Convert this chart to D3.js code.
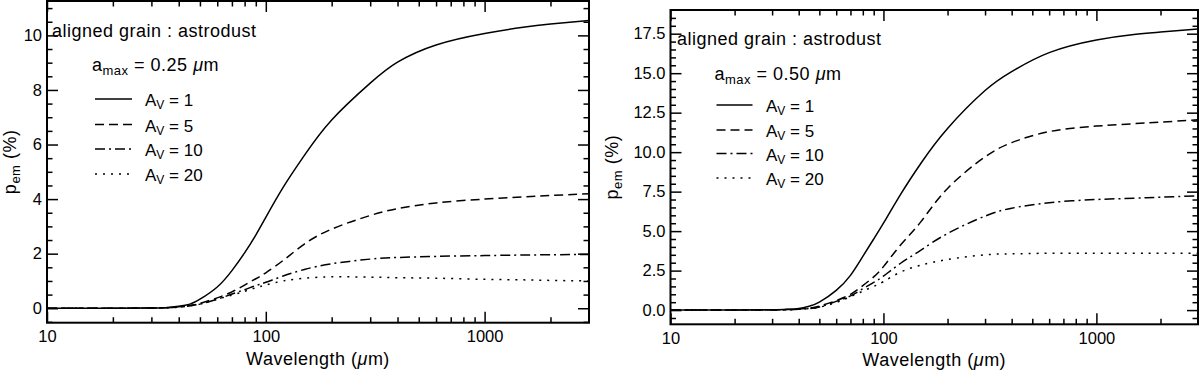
<!DOCTYPE html>
<style>
    body { margin: 0; background: #fff; }
    text { font-family: 'Liberation Sans', Arial, Helvetica, sans-serif; fill: #000; }
    .axis .domain { display: none; }
    .axis line { stroke: #000; stroke-width: 1.5px; }
    .lab { letter-spacing: 0.5px; }
</style>
<body>
<svg width="1200" height="370" id="chart"></svg>
<script src="https://d3js.org/d3.v7.min.js"></script>
<script>

    // wavelength grid in micron
    var wavelength = [10, 20, 30, 35, 40, 45, 50, 60, 70, 80, 90, 100, 120, 150, 200, 300, 400, 600, 1000, 1500, 2000, 3000];

    // a_max = 0.25 micron
    var pem025_av1  = [0, 0, 0.01, 0.02, 0.07, 0.15, 0.33, 0.78, 1.38, 2.03, 2.68, 3.33, 4.43, 5.6, 6.9, 8.25, 9.02, 9.65, 10.07, 10.3, 10.42, 10.55];
    var pem025_av5  = [0, 0, 0.01, 0.02, 0.05, 0.1, 0.18, 0.38, 0.6, 0.85, 1.08, 1.3, 1.75, 2.35, 2.9, 3.4, 3.65, 3.86, 4.0, 4.08, 4.13, 4.2];
    var pem025_av10 = [0, 0, 0.01, 0.02, 0.04, 0.09, 0.15, 0.33, 0.52, 0.68, 0.83, 0.95, 1.18, 1.42, 1.63, 1.8, 1.86, 1.9, 1.93, 1.95, 1.96, 1.97];
    var pem025_av20 = [0, 0, 0.01, 0.02, 0.04, 0.09, 0.15, 0.33, 0.48, 0.62, 0.75, 0.85, 1.0, 1.1, 1.15, 1.14, 1.12, 1.1, 1.06, 1.04, 1.02, 1.0];

    // a_max = 0.50 micron
    var pem050_av1  = [0, 0, 0.02, 0.05, 0.1, 0.25, 0.5, 1.25, 2.2, 3.4, 4.5, 5.5, 7.3, 9.3, 11.5, 13.9, 15.1, 16.3, 17.1, 17.45, 17.6, 17.8];
    var pem050_av5  = [0, 0, 0.01, 0.03, 0.07, 0.13, 0.25, 0.6, 1.0, 1.55, 2.1, 2.75, 4.1, 5.6, 7.7, 9.7, 10.6, 11.3, 11.65, 11.8, 11.9, 12.05];
    var pem050_av10 = [0, 0, 0.01, 0.02, 0.05, 0.1, 0.2, 0.55, 0.9, 1.35, 1.75, 2.15, 2.95, 3.8, 4.85, 5.95, 6.45, 6.8, 7.0, 7.08, 7.15, 7.23];
    var pem050_av20 = [0, 0, 0.01, 0.02, 0.05, 0.1, 0.18, 0.48, 0.85, 1.2, 1.5, 1.8, 2.4, 2.85, 3.2, 3.5, 3.56, 3.6, 3.6, 3.6, 3.6, 3.6];

    var avLabels = ["1", "5", "10", "20"];
    var xMajor = [10, 100, 1000];
    var xMinor = [20, 30, 40, 50, 60, 70, 80, 90, 200, 300, 400, 500, 600, 700, 800, 900, 2000];
    var yMajor025 = [0, 2, 4, 6, 8, 10];
    var yMajor050 = [0, 2.5, 5, 7.5, 10, 12.5, 15, 17.5];

    var dashes = [null, "9,5", "10,4,2,4", "2,6"];

    var svg = d3.select("svg");

    var panels = [
        {left: 47, right: 589, top: 1, bottom: 322.7, yDom: [-0.53, 11.26], yMajor: yMajor025, fmt: d3.format("d"),
         series: [pem025_av1, pem025_av5, pem025_av10, pem025_av20], amax: "0.25", ylabX: -31,
         title: [5, 36.3], amaxPos: [45, 69.7], legX: [48, 85, 98], legY: [98, 123.5, 148, 173]},
        {left: 670.5, right: 1198, top: 10, bottom: 324.3, yDom: [-0.9, 19.0], yMajor: yMajor050, fmt: d3.format(".1f"),
         series: [pem050_av1, pem050_av5, pem050_av10, pem050_av20], amax: "0.50", ylabX: -53,
         title: [6.5, 35], amaxPos: [44, 70], legX: [46, 82, 95.5], legY: [95, 120, 143.5, 168]}
    ];

    panels.forEach(function(p, pi) {
        var width = p.right - p.left,
            height = p.bottom - p.top;
        var g = svg.append("g").attr("transform", "translate(" + p.left + "," + p.top + ")");

        var x = d3.scaleLog().domain([10, 3000]).range([0, width]);
        var y = d3.scaleLinear().domain(p.yDom).range([height, 0]);

        var yMinor = d3.range(Math.ceil(p.yDom[0] * 2) / 2, p.yDom[1], 0.5)
            .filter(function(v) { return p.yMajor.indexOf(v) < 0; });

        // bottom axis with labels, ticks pointing inward
        g.append("g").attr("class", "axis").attr("transform", "translate(0," + height + ")")
            .call(d3.axisBottom(x).tickValues(xMajor).tickSize(-11).tickPadding(8).tickFormat(d3.format("d")))
            .selectAll("text").attr("font-size", 16.5).attr("font-family", null);
        g.append("g").attr("class", "axis").attr("transform", "translate(0," + height + ")")
            .call(d3.axisBottom(x).tickValues(xMinor).tickSize(-5.5).tickFormat(""));
        // top
        g.append("g").attr("class", "axis")
            .call(d3.axisTop(x).tickValues(xMajor).tickSize(-11).tickFormat(""));
        g.append("g").attr("class", "axis")
            .call(d3.axisTop(x).tickValues(xMinor).tickSize(-5.5).tickFormat(""));
        // left
        g.append("g").attr("class", "axis")
            .call(d3.axisLeft(y).tickValues(p.yMajor).tickSize(-11).tickPadding(5).tickFormat(p.fmt))
            .selectAll("text").attr("font-size", 16.5).attr("font-family", null);
        g.append("g").attr("class", "axis")
            .call(d3.axisLeft(y).tickValues(yMinor).tickSize(-5.5).tickFormat(""));
        // right
        g.append("g").attr("class", "axis").attr("transform", "translate(" + width + ",0)")
            .call(d3.axisRight(y).tickValues(p.yMajor).tickSize(-11).tickFormat(""));
        g.append("g").attr("class", "axis").attr("transform", "translate(" + width + ",0)")
            .call(d3.axisRight(y).tickValues(yMinor).tickSize(-5.5).tickFormat(""));

        g.append("clipPath").attr("id", "clip" + pi)
            .append("rect").attr("width", width).attr("height", height);

        var line = d3.line()
            .x(function(d) { return x(d[0]); })
            .y(function(d) { return y(d[1]); })
            .curve(d3.curveNatural);

        g.append("g").attr("clip-path", "url(#clip" + pi + ")")
            .selectAll("path")
            .data(p.series)
            .enter().append("path")
            .attr("fill", "none")
            .attr("stroke", "#000")
            .attr("stroke-width", 1.5)
            .attr("stroke-dasharray", function(d, i) { return dashes[i]; })
            .attr("d", function(s) { return line(wavelength.map(function(w, i) { return [w, s[i]]; })); });

        // frame
        g.append("rect")
            .attr("width", width).attr("height", height)
            .attr("fill", "none").attr("stroke", "#000").attr("stroke-width", 2);

        // annotations
        g.append("text").attr("class", "lab").attr("x", p.title[0]).attr("y", p.title[1])
            .attr("font-size", 18).text("aligned grain : astrodust");

        var am = g.append("text").attr("class", "lab").attr("x", p.amaxPos[0]).attr("y", p.amaxPos[1]).attr("font-size", 18);
        am.append("tspan").text("a");
        am.append("tspan").attr("font-size", 13).attr("dy", 4).text("max");
        am.append("tspan").attr("dy", -4).text(" = " + p.amax + " ");
        am.append("tspan").attr("font-style", "italic").text("\u03bc");
        am.append("tspan").text("m");

        var leg = g.selectAll(".leg")
            .data(avLabels)
            .enter().append("g")
            .attr("transform", function(d, i) { return "translate(0," + p.legY[i] + ")"; });

        leg.append("line")
            .attr("x1", p.legX[0]).attr("x2", p.legX[1])
            .attr("stroke", "#000").attr("stroke-width", 1.5)
            .attr("stroke-dasharray", function(d, i) { return dashes[i]; });

        var lt = leg.append("text").attr("x", p.legX[2]).attr("y", 7).attr("font-size", 17);
        lt.append("tspan").text("A");
        lt.append("tspan").attr("font-size", 12).attr("dy", 3).text("V");
        lt.append("tspan").attr("dy", -3).text(function(d) { return " = " + d; });

        // axis titles
        var xl = g.append("text").attr("class", "lab")
            .attr("x", width / 2).attr("y", height + 42)
            .attr("text-anchor", "middle").attr("font-size", 18);
        xl.append("tspan").text("Wavelength (");
        xl.append("tspan").attr("font-style", "italic").text("\u03bc");
        xl.append("tspan").text("m)");

        var yl = g.append("text").attr("class", "lab")
            .attr("transform", "translate(" + p.ylabX + "," + (height / 2) + ") rotate(-90)")
            .attr("text-anchor", "middle").attr("font-size", 18);
        yl.append("tspan").text("p");
        yl.append("tspan").attr("font-size", 13).attr("dy", 4).text("em");
        yl.append("tspan").attr("dy", -4).text(" (%)");
    });

</script>
</body>
